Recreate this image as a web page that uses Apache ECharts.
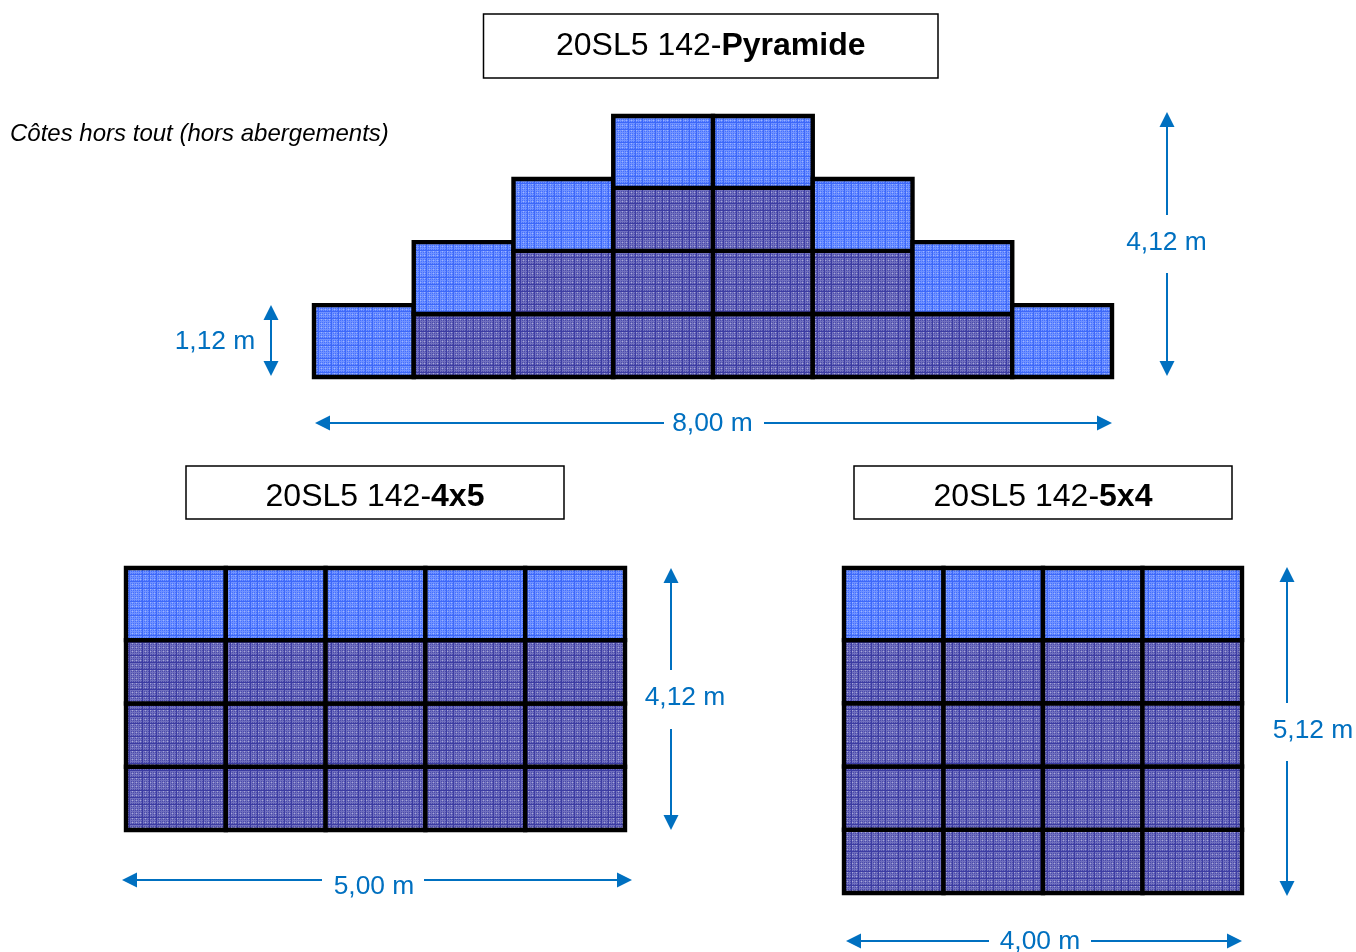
<!DOCTYPE html>
<html><head><meta charset="utf-8">
<style>html,body{margin:0;padding:0;background:#fff}#c{width:1356px;height:952px}</style>
<script src="https://cdn.jsdelivr.net/npm/echarts@6/dist/echarts.min.js"></script>
</head><body><div id="c"></div>
<script>
// data (metres / panel counts)
const pyramidRowsPerColumn = [1,2,3,4,4,3,2,1];
const block4x5RowsPerColumn = [4,4,4,4,4];
const block5x4RowsPerColumn = [5,5,5,5];
const topPanelHeight = 1.14;
const darkPanelHeight = 1;
const titles = [['20SL5 142-','Pyramide'],['20SL5 142-','4x5'],['20SL5 142-','5x4']];
const note = 'Côtes hors tout (hors abergements)';
const dims = ['8,00 m','4,12 m','1,12 m','5,00 m','4,12 m','4,00 m','5,12 m'];

const BLUE='#0070C0';
function tile(base,line,hi,spark){
  const n=27,c=document.createElement('canvas');c.width=c.height=n;
  const g=c.getContext('2d');g.fillStyle=base;g.fillRect(0,0,n,n);
  const offs=[1,3,5,8,10,12,15,17,19,22,24,26];
  g.fillStyle=hi;
  offs.forEach(o=>{g.fillRect(o,0,1,n);g.fillRect(0,o,n,1);});
  g.fillStyle=line;
  [7,14,21].forEach(o=>{g.fillRect(o,0,1,n);g.fillRect(0,o,n,1);});
  g.fillStyle=spark;
  [1,5,10,15,19,24].forEach(x=>[3,8,12,17,22,26].forEach(y=>g.fillRect(x,y,1,1)));
  return c;
}
const lightFill={image:tile('#4470FF','#3D68F8','#7092FF','#9DB4FF'),repeat:'repeat'};
const darkFill={image:tile('#4A4AAA','#3C3CA2','#7070BE','#A8A8D8'),repeat:'repeat'};

function panels(cols){
  const out=[];
  cols.forEach((n,c)=>{
    for(let r=0;r<n-1;r++) out.push([c,r*darkPanelHeight,(r+1)*darkPanelHeight,0]);
    out.push([c,(n-1)*darkPanelHeight,(n-1)*darkPanelHeight+topPanelHeight,1]);
  });
  return out;
}
function renderPanel(p,api){
  const a=api.coord([api.value(0),api.value(2)]),b=api.coord([api.value(0)+1,api.value(1)]);
  return {type:'rect',shape:{x:a[0],y:a[1],width:b[0]-a[0],height:b[1]-a[1]},
    style:{fill:api.value(3)?lightFill:darkFill,stroke:'#000',lineWidth:4.4}};
}
const blocks=[
 {cols:pyramidRowsPerColumn,left:314,top:116,w:798,h:261},
 {cols:block4x5RowsPerColumn,left:126,top:568,w:499,h:262},
 {cols:block5x4RowsPerColumn,left:844,top:568,w:398,h:325}
];
const grid=[],xAxis=[],yAxis=[],series=[];
blocks.forEach((b,i)=>{
  grid.push({left:b.left,top:b.top,width:b.w,height:b.h});
  const maxY=Math.max(...b.cols)-1+topPanelHeight;
  xAxis.push({gridIndex:i,type:'value',min:0,max:b.cols.length,show:false});
  yAxis.push({gridIndex:i,type:'value',min:0,max:maxY,show:false});
  series.push({type:'custom',xAxisIndex:i,yAxisIndex:i,clip:false,silent:true,animation:false,
    data:panels(b.cols),encode:{x:0,y:[1,2]},renderItem:renderPanel});
});

// annotation helpers
const gfx=[];
function titleBox(x,y,w,h,t,fs,dy){
  gfx.push({type:'rect',shape:{x:x,y:y,width:w,height:h},style:{fill:'#fff',stroke:'#000',lineWidth:1.5}});
  const ctx=document.createElement('canvas').getContext('2d');
  ctx.font=fs+'px "Liberation Sans"';const w1=ctx.measureText(t[0]).width;
  ctx.font='bold '+fs+'px "Liberation Sans"';const w2=ctx.measureText(t[1]).width;
  const x0=x+w/2-(w1+w2)/2,yc=y+h/2+dy;
  gfx.push({type:'text',x:x0,y:yc,style:{text:t[0],fill:'#000',font:fs+'px "Liberation Sans"',textVerticalAlign:'middle',textAlign:'left'}});
  gfx.push({type:'text',x:x0+w1,y:yc,style:{text:t[1],fill:'#000',font:'bold '+fs+'px "Liberation Sans"',textVerticalAlign:'middle',textAlign:'left'}});
}
function line(x1,y1,x2,y2){gfx.push({type:'line',shape:{x1,y1,x2,y2},style:{stroke:BLUE,lineWidth:2}});}
function tri(x,y,dx,dy){
  const L=15,W=7.5,bx=x-dx*L,by=y-dy*L;
  gfx.push({type:'polygon',shape:{points:[[x,y],[bx+dy*W,by+dx*W],[bx-dy*W,by-dx*W]]},style:{fill:BLUE}});
}
function label(x,y,t){gfx.push({type:'text',x,y,style:{text:t,fill:BLUE,font:'26.4px "Liberation Sans"',textAlign:'center',textVerticalAlign:'middle'}});}
function hArrow(x1,x2,y,g1,g2,t,lx,ly){line(x1+10,y,g1,y);line(g2,y,x2-10,y);tri(x1,y,-1,0);tri(x2,y,1,0);label(lx,ly,t);}
function vArrow(x,y1,y2,g1,g2,t,lx,ly){
  if(g1!=null){line(x,y1+10,x,g1);line(x,g2,x,y2-10);}else line(x,y1+10,x,y2-10);
  tri(x,y1,0,-1);tri(x,y2,0,1);label(lx,ly,t);
}
titleBox(483.5,14,454.5,64,titles[0],32,0);
titleBox(186,466,378,53,titles[1],32,4.5);
titleBox(854,466,378,53,titles[2],32,5);
gfx.push({type:'text',x:10,y:134,style:{text:note,fill:'#000',font:'italic 24px "Liberation Sans"',textAlign:'left',textVerticalAlign:'middle'}});
hArrow(315,1112,423,664,764,dims[0],712.5,423.5);
vArrow(1167,112,376,215,273,dims[1],1166.5,242.5);
vArrow(271,305,376,null,null,dims[2],215,341.5);
hArrow(122,632,880,322,424,dims[3],374,887);
vArrow(671,568,830,670,729,dims[4],685,697.5);
hArrow(846,1242,941,989,1091,dims[5],1040,941.5);
vArrow(1287,567,896,703,761,dims[6],1313,730.5);

const chart=echarts.init(document.getElementById('c'),null,{width:1356,height:952,renderer:'canvas'});
chart.setOption({animation:false,backgroundColor:'#fff',grid,xAxis,yAxis,series,graphic:{elements:gfx}});
</script></body></html>
